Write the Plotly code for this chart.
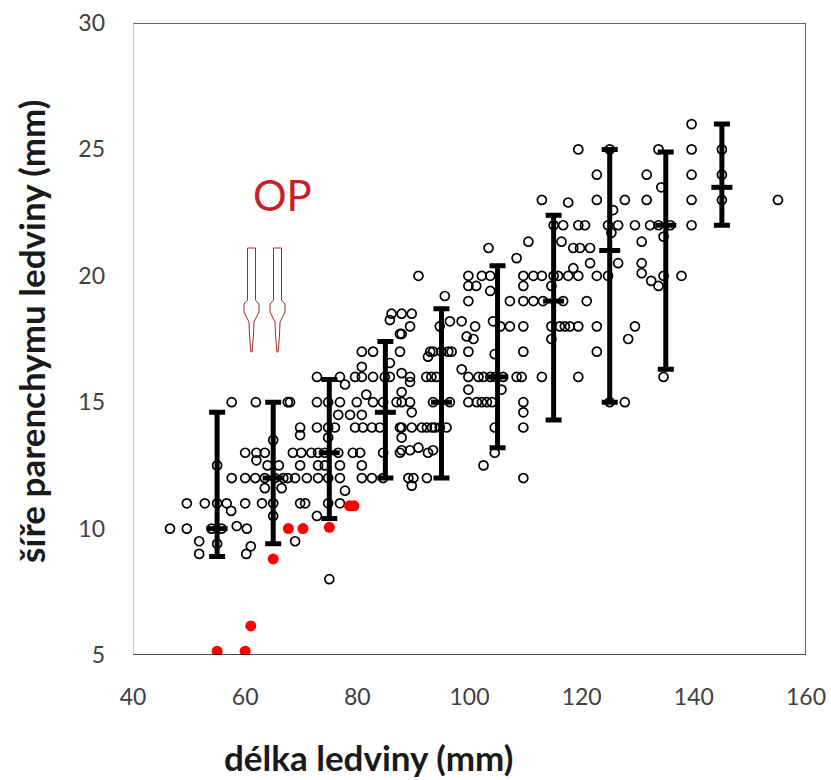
import plotly.graph_objects as go

# ---------------- data ----------------
# open circles: kidney length (mm) vs parenchyma width (mm)
pts_x = [
    57.6, 61.9, 67.6, 65, 60, 62, 63.5, 62, 64, 66, 57.6, 60, 61.8, 63.5, 65.3, 66.8, 63.5, 66.5, 55,
    49.6, 52.8, 55, 56.7, 60, 63, 65, 57.5, 65, 46.6, 49.6, 54, 55.8, 58.5, 60.3, 51.8, 61, 60.2, 51.8, 55,
    86.1, 87.9, 85.8, 87.6, 80.8, 82.8, 87.6, 85.8, 80.8,
    72.8, 76.9, 79.6, 80.8, 82.8, 84.9, 85.8, 77.8,
    68, 72.8, 74.8, 76.9, 79.9, 81.6, 82.8, 84.6, 87,
    76.6, 78.7, 80.8,
    69.8, 72.8, 74.8, 76, 79.6, 81, 82.6, 84, 87.6, 69.8, 74.8,
    68.5, 70, 71.8, 73, 74.2, 76.6, 79.2, 80.5, 84.6, 87.6,
    69.8, 73, 74.2, 76.9, 80.8,
    67.6, 68.9, 71, 73, 74.8, 76.9, 80.8, 82.6, 84.6,
    77.8, 69.8, 70.7, 74.8, 76.9, 72.8, 68.9, 75,
    103.4, 90.9, 99.8, 102.2, 103.7, 99.8, 101.2, 103.7, 95.6, 99.8,
    89.7, 96.5, 98.6, 101, 89.4, 94.7, 104.2, 105.5,
    87.9, 99.5, 100.7, 93, 93.5, 95, 96.2, 96.8, 92.6, 99.8, 104.5,
    87.9, 89.4, 92.3, 93.2, 94.1, 98.6, 99.8, 101.6, 102.5, 103.7, 104.6, 106,
    89.4, 87.9, 99.8, 105.7,
    89.4, 87.9, 93.5, 96.5, 99.8, 101.3, 102.2, 103.1, 104,
    89.7,
    87.9, 89.7, 91.5, 92.4, 93.3, 93.8, 94.7, 95.9, 104.5,
    87.9, 87.9, 89.4, 90.9, 92.6, 93.5, 104.5,
    102.5, 89.1, 90, 92.4, 89.7,
    119.4, 125, 122.7, 112.9, 117.6, 122.7, 127.7, 125.6,
    115, 116.7, 119.4, 120.6, 124.7, 126.5, 125.3,
    110.5, 116.4, 118.5, 119.7, 121.5,
    108.4, 121.5, 126.5, 118.5,
    109.6, 111.4, 112.9, 115, 115.8, 117.6, 119.4, 122.7, 124.7,
    109.6, 114.6,
    107.2, 109.6, 111.4, 113.1, 116.7, 120.9,
    107.2, 109.6, 114.6, 116.1, 117, 117.9, 119.4, 122.7,
    114.6, 128.3, 109.6, 122.7,
    108.4, 109.3, 112.9, 119.4,
    109.6, 109.6, 109.6, 127.7, 125, 109.6,
    139.6, 139.6, 133.7, 145, 131.6, 139.6, 145, 134.2,
    131.6, 139.6, 145, 155,
    129.5, 132.2, 133.7, 135.8, 139.6,
    130.7, 134.6, 130.7, 130.7, 132.4, 133.7, 134.6, 137.8,
    129.5, 134.6,
]
pts_y = [
    15, 15, 15, 13.5, 13, 13, 13, 12.7, 12.5, 12.5, 12, 12, 12, 12, 12, 12, 11.6, 11.6, 12.5,
    11, 11, 11, 11, 11, 11, 11, 10.7, 10.5, 10, 10, 10, 10, 10.1, 10, 9.5, 9.3, 9.0, 9.0, 9.4,
    18.5, 18.5, 18.25, 17.7, 17, 17, 17, 16.55, 16.4,
    16, 16, 16, 16, 16, 16, 16, 15.7,
    15, 15, 15, 15, 15, 15.3, 15, 15, 15,
    14.5, 14.5, 14.5,
    14, 14, 14, 14, 14, 14, 14, 14, 14, 13.7, 13.6,
    13, 13, 13, 13, 13, 13, 13, 13, 13, 13,
    12.5, 12.5, 12.5, 12.5, 12.5,
    12, 12, 12, 12, 12, 12, 12, 12, 12,
    11.5, 11, 11, 11, 11, 10.5, 9.5, 8,
    21.1, 20, 20, 20, 20, 19.6, 19.6, 19.4, 19.2, 19,
    18.5, 18.2, 18.2, 18, 18, 18, 18.2, 18,
    17.7, 17.6, 17.5, 17, 17, 17, 17, 17, 16.8, 17, 16.9,
    16.15, 16, 16, 16, 16, 16.3, 16, 16, 16, 16, 16, 16,
    15.8, 15.4, 15.5, 15.5,
    15, 15, 15, 15, 15, 15, 15, 15, 15,
    14.6,
    14, 14, 14, 14, 14, 14, 14, 14, 14,
    13.6, 13.1, 13.1, 13.2, 13, 13.1, 13,
    12.5, 12, 12, 12, 11.7,
    25, 25, 24, 23, 22.9, 23, 23, 22.6,
    22, 22, 22, 22, 22, 22, 21.7,
    21.35, 21.35, 21.1, 21.1, 21.1,
    20.7, 20.5, 20.5, 20.3,
    20, 20, 20, 20, 20, 20, 20, 20, 20,
    19.6, 19.6,
    19, 19, 19, 19, 19, 19,
    18, 18, 18, 18, 18, 18, 18, 18,
    17.5, 17.5, 17, 17,
    16, 16, 16, 16,
    15, 14.6, 14, 15, 15, 12,
    26, 25, 25, 25, 24, 24, 24, 23.5,
    23, 23, 23, 23,
    22, 22, 22, 22, 22,
    21.35, 21.55, 20.5, 20.1, 19.8, 19.6, 20, 20,
    18, 16,
]

# red filled points (OP)
op_x = [55, 60, 61, 65, 67.7, 70.3, 75, 78.6, 79.4]
op_y = [5.15, 5.15, 6.15, 8.8, 10.0, 10.0, 10.05, 10.9, 10.9]

# summary bars per 10 mm class
grp_x = [55, 65, 75, 85, 95, 105, 115, 125, 135, 145]
grp_mean = [10, 12, 13, 14.6, 15, 16, 19, 21, 22, 23.5]
grp_low = [8.9, 9.4, 10.4, 12, 12, 13.2, 14.3, 15, 16.3, 22]
grp_high = [14.6, 15, 15.9, 17.4, 18.7, 20.4, 22.4, 25, 24.9, 26]

x_ticks = [40, 60, 80, 100, 120, 140, 160]
y_ticks = [5, 10, 15, 20, 25, 30]

# ---------------- figure ----------------
W, H = 831, 780
ML, MR, MT, MB = 133, 25, 23, 125
XR = [40, 160]
YR = [5, 30]
PW, PH = W - ML - MR, H - MT - MB


def px2x(px):
    return XR[0] + (px - ML) * (XR[1] - XR[0]) / PW


def py2y(py):
    return YR[1] - (py - MT) * (YR[1] - YR[0]) / PH


fig = go.Figure()

fig.add_trace(go.Scatter(
    x=pts_x, y=pts_y, mode="markers",
    marker=dict(symbol="circle-open", size=9, color="black", line=dict(width=1.7, color="black")),
    hoverinfo="skip", showlegend=False,
))

fig.add_trace(go.Scatter(
    x=op_x, y=op_y, mode="markers",
    marker=dict(symbol="circle", size=11, color="#ff0000"),
    showlegend=False,
))

fig.add_trace(go.Scatter(
    x=grp_x, y=grp_mean, mode="markers",
    marker=dict(symbol="line-ew", size=15, color="black", line=dict(width=5, color="black")),
    error_y=dict(
        type="data", symmetric=False,
        array=[h - m for h, m in zip(grp_high, grp_mean)],
        arrayminus=[m - l for m, l in zip(grp_mean, grp_low)],
        color="black", thickness=5, width=8,
    ),
    showlegend=False,
))

shapes = []
# plot frame
shapes.append(dict(type="line", xref="x", yref="y", x0=XR[0], x1=XR[1], y0=YR[1], y1=YR[1],
                   line=dict(color="#333333", width=1.5)))
shapes.append(dict(type="line", xref="x", yref="y", x0=XR[1], x1=XR[1], y0=YR[0], y1=YR[1],
                   line=dict(color="#333333", width=1.5)))
shapes.append(dict(type="line", xref="x", yref="y", x0=XR[0], x1=XR[1], y0=YR[0], y1=YR[0],
                   line=dict(color="#111111", width=1.5)))
shapes.append(dict(type="line", xref="x", yref="y", x0=XR[0], x1=XR[0], y0=YR[0], y1=YR[1],
                   line=dict(color="#999999", width=1)))


# two hollow arrows (pointer decoration)
def arrow_path(cx):
    pts = [(cx - 4, 248), (cx + 4, 248), (cx + 4, 300), (cx + 7.5, 304), (cx + 7.5, 312),
           (cx + 2.5, 322), (cx + 2, 335), (cx + 0.6, 352), (cx - 0.6, 352), (cx - 2, 335),
           (cx - 2.5, 322), (cx - 7.5, 312), (cx - 7.5, 304), (cx - 4, 300)]
    d = "M " + " L ".join(f"{px2x(a):.4f},{py2y(b):.4f}" for a, b in pts) + " Z"
    return d


for cx in (251.5, 277.5):
    shapes.append(dict(type="path", xref="x", yref="y", path=arrow_path(cx),
                       line=dict(color="#a52a2a", width=1), fillcolor="white"))

fig.update_layout(
    width=W, height=H,
    margin=dict(l=ML, r=MR, t=MT, b=MB, pad=0, autoexpand=False),
    paper_bgcolor="white", plot_bgcolor="white",
    font=dict(family="Lato", color="#404040"),
    shapes=shapes,
    xaxis=dict(range=XR, tickvals=x_ticks, ticktext=[str(v) for v in x_ticks],
               showgrid=False, zeroline=False, showline=False, ticks="", automargin=False,
               tickfont=dict(size=23, color="#404040"), ticklabelstandoff=26),
    yaxis=dict(range=YR, tickvals=y_ticks, ticktext=[str(v) for v in y_ticks],
               showgrid=False, zeroline=False, showline=False, ticks="", automargin=False,
               tickfont=dict(size=23, color="#404040"), ticklabelstandoff=27),
    annotations=[
        dict(text="délka ledviny (mm)", xref="paper", yref="paper",
             x=(368 - ML) / PW, y=-(757 - MT - PH) / PH, xanchor="center", yanchor="middle",
             showarrow=False, font=dict(size=35, family="Lato", color="#1a1a1a", weight="bold")),
        dict(text="šíře parenchymu ledviny (mm)", xref="paper", yref="paper",
             x=(31 - ML) / PW, y=1 - (332 - MT) / PH, xanchor="center", yanchor="middle",
             textangle=-90, showarrow=False,
             font=dict(size=35, family="Lato", color="#1a1a1a", weight="bold")),
        dict(text="OP", xref="x", yref="y", x=px2x(282), y=py2y(195),
             xanchor="center", yanchor="middle", showarrow=False,
             font=dict(size=42, family="Lato", color="#c8202a")),
    ],
)

fig.write_html(
    "out.html",
    config={"displayModeBar": False},
    post_script="document.body.style.margin='0';document.body.style.overflow='hidden';",
)
